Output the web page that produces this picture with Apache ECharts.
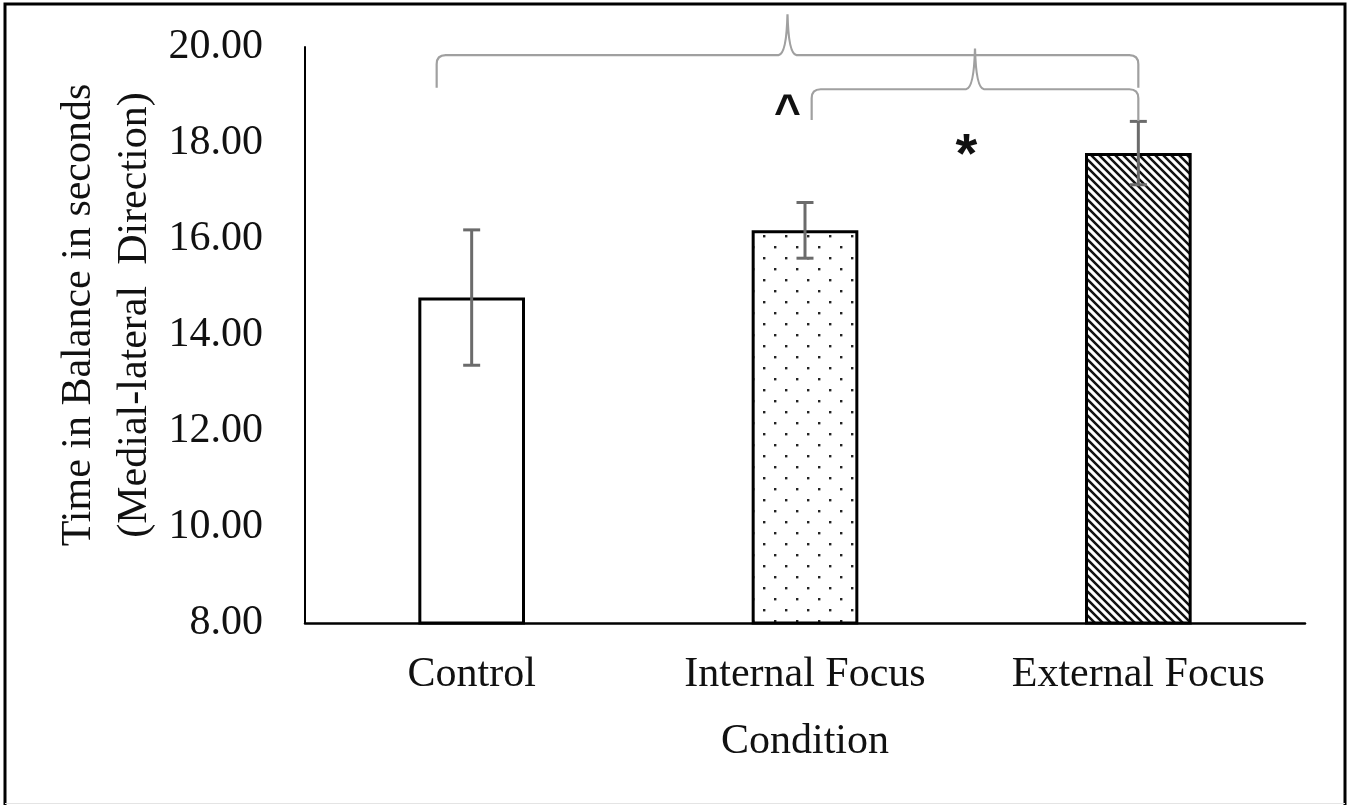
<!DOCTYPE html>
<html>
<head>
<meta charset="utf-8">
<script src="https://cdn.jsdelivr.net/npm/echarts@6/dist/echarts.min.js"></script>
<style>
html,body{margin:0;padding:0;background:#fff;}
#chart{width:1349px;height:805px;}
</style>
</head>
<body>
<div id="chart"></div>
<script>
// ---- data ----
const categories = ['Control', 'Internal Focus', 'External Focus'];
const meanValues = [14.78, 16.18, 17.79];
const errorValues = [1.41, 0.58, 0.66];
const yTicks = { min: 8, max: 20, interval: 2 };
const xAxisTitle = 'Condition';
const yAxisTitle = 'Time in Balance in seconds\n(Medial-lateral  Direction)';

// significance brackets: [leftCat, leftFrac, rightCat, rightFrac, leftEnd, rightEnd, top, peak]
const bracketLeftCat = [0, 1];
const bracketLeftFrac = [-0.105, 0.02];
const bracketRightCat = [2, 2];
const bracketRightFrac = [0, 0];
const bracketLeftEnd = [19.15, 18.48];
const bracketRightEnd = [19.15, 18.46];
const bracketTop = [19.83, 19.12];
const bracketPeak = [20.68, 19.97];

// significance marks
const markSymbols = ['^', '*'];
const markCategory = [0.947, 1.484];
const markValue = [18.6, 17.72];

// ---- patterns ----
function dotPattern() {
  const c = document.createElement('canvas');
  c.width = 22; c.height = 22;
  const g = c.getContext('2d');
  g.fillStyle = '#fff'; g.fillRect(0, 0, 22, 22);
  g.fillStyle = '#222';
  g.fillRect(4, 4, 2.4, 2.4);
  g.fillRect(15, 15, 2.4, 2.4);
  return c;
}
function hatchPattern() {
  const s = 8;
  const c = document.createElement('canvas');
  c.width = s; c.height = s;
  const g = c.getContext('2d');
  g.fillStyle = '#fff'; g.fillRect(0, 0, s, s);
  g.strokeStyle = '#111'; g.lineWidth = 2.5;
  g.beginPath();
  g.moveTo(-2, -2); g.lineTo(s + 2, s + 2);
  g.moveTo(-2, s - 2); g.lineTo(2, s + 2);
  g.moveTo(s - 2, -2); g.lineTo(s + 2, 2);
  g.stroke();
  return c;
}
const fills = ['#ffffff', { image: dotPattern(), repeat: 'repeat' }, { image: hatchPattern(), repeat: 'repeat' }];

const barData = meanValues.map((v, i) => ({
  value: v,
  itemStyle: { color: fills[i], borderColor: '#000', borderWidth: 3 }
}));
const errData = meanValues.map((v, i) => [i, v - errorValues[i], v + errorValues[i]]);
const bracketData = bracketLeftCat.map((c, i) => [
  c, bracketLeftFrac[i], bracketRightCat[i], bracketRightFrac[i],
  bracketLeftEnd[i], bracketRightEnd[i], bracketTop[i], bracketPeak[i]
]);
const markData = markSymbols.map((s, i) => [markCategory[i], markValue[i], i]);

function catPoint(api, catPos, y) {
  const idx = Math.floor(catPos);
  const frac = catPos - idx;
  const p = api.coord([idx, y]);
  const bw = api.size([1, 0])[0];
  return [p[0] + frac * bw, p[1]];
}

const serif = 'Liberation Serif, Times New Roman, serif';
const chart = echarts.init(document.getElementById('chart'), null, { renderer: 'canvas' });
chart.setOption({
  animation: false,
  backgroundColor: '#fff',
  grid: { left: 305, right: 44, top: 47, bottom: 182 },
  xAxis: {
    type: 'category',
    data: categories,
    axisTick: { show: false },
    axisLine: { lineStyle: { color: '#000', width: 2.5 } },
    axisLabel: { fontFamily: serif, fontSize: 42, color: '#111', margin: 20, lineHeight: 63 },
    name: xAxisTitle,
    nameLocation: 'middle',
    nameGap: 83,
    nameTextStyle: { fontFamily: serif, fontSize: 42, color: '#111', lineHeight: 63 }
  },
  yAxis: {
    type: 'value',
    min: yTicks.min, max: yTicks.max, interval: yTicks.interval,
    splitLine: { show: false },
    axisTick: { show: false },
    axisLine: { show: true, lineStyle: { color: '#000', width: 2 } },
    axisLabel: { fontFamily: serif, fontSize: 42, color: '#111', margin: 42,
      formatter: v => v.toFixed(2) }
  },
  graphic: [
    { type: 'text', x: 107, y: 315, rotation: Math.PI / 2, z: 10,
      style: { text: yAxisTitle, font: '42px ' + serif, fill: '#111',
        align: 'center', verticalAlign: 'middle', lineHeight: 56 } },
    { type: 'polyline', z: 20, silent: true,
      shape: { points: [[5, 805], [5, 4], [1345, 4], [1345, 805]] },
      style: { stroke: '#000', lineWidth: 3, fill: null } },
    { type: 'line', z: 20, silent: true,
      shape: { x1: 5, y1: 803.5, x2: 1345, y2: 803.5 },
      style: { stroke: '#e4e4e4', lineWidth: 1 } }
  ],
  series: [
    {
      type: 'bar',
      data: barData,
      barWidth: '32%',
      z: 2
    },
    {
      type: 'custom',
      z: 5,
      clip: false,
      data: errData,
      encode: { x: 0, y: [1, 2] },
      renderItem: function (params, api) {
        const lo = api.coord([api.value(0), api.value(1)]);
        const hi = api.coord([api.value(0), api.value(2)]);
        const hw = 8.5;
        const st = { stroke: '#6b6b6b', lineWidth: 3 };
        return { type: 'group', children: [
          { type: 'line', shape: { x1: lo[0], y1: lo[1], x2: hi[0], y2: hi[1] }, style: st },
          { type: 'line', shape: { x1: lo[0] - hw, y1: lo[1], x2: lo[0] + hw, y2: lo[1] }, style: st },
          { type: 'line', shape: { x1: hi[0] - hw, y1: hi[1], x2: hi[0] + hw, y2: hi[1] }, style: st }
        ] };
      }
    },
    {
      type: 'custom',
      z: 6,
      clip: false,
      data: bracketData,
      encode: { x: 0, y: 6 },
      renderItem: function (params, api) {
        const L = catPoint(api, api.value(0) + api.value(1), api.value(4));
        const R = catPoint(api, api.value(2) + api.value(3), api.value(5));
        const yT = api.coord([0, api.value(6)])[1];
        const yP = api.coord([0, api.value(7)])[1];
        const xm = (L[0] + R[0]) / 2;
        const r = 9, r2 = 9;
        const d = [
          'M', L[0], L[1],
          'L', L[0], yT + r,
          'Q', L[0], yT, L[0] + r, yT,
          'L', xm - r2, yT,
          'Q', xm - 1, yT - 1, xm, yP,
          'Q', xm + 1, yT - 1, xm + r2, yT,
          'L', R[0] - r, yT,
          'Q', R[0], yT, R[0], yT + r,
          'L', R[0], R[1]
        ].join(' ');
        return { type: 'path', shape: { pathData: d },
          style: { stroke: '#a0a0a0', lineWidth: 2.2, fill: null } };
      }
    },
    {
      type: 'custom',
      z: 7,
      clip: false,
      data: markData,
      encode: { x: 0, y: 1 },
      renderItem: function (params, api) {
        const p = catPoint(api, api.value(0), api.value(1));
        const sym = markSymbols[api.value(2)];
        const size = sym === '*' ? 56 : 46;
        return { type: 'text', x: p[0], y: p[1],
          style: { text: sym, font: 'bold ' + size + 'px Liberation Sans, Arial, sans-serif',
            fill: '#111', align: 'center', verticalAlign: 'middle' } };
      }
    }
  ]
});
</script>
</body>
</html>
